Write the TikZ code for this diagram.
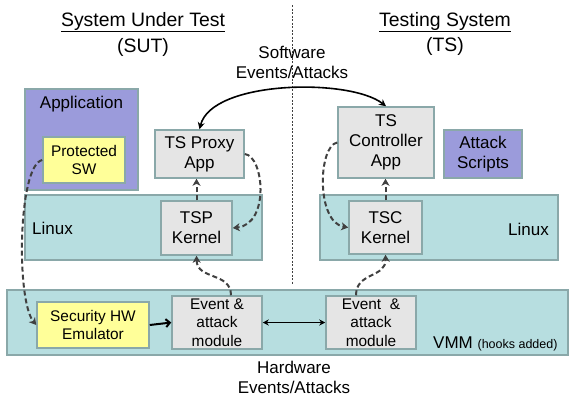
\documentclass[tikz,border=0pt]{standalone}
\usepackage{fontspec}
\setmainfont{Liberation Sans}
\usetikzlibrary{arrows.meta}
\definecolor{appblue}{HTML}{9B9BDB}
\definecolor{vmteal}{HTML}{B7DEE0}
\definecolor{modgray}{HTML}{E5E5E5}
\definecolor{hwyellow}{HTML}{FFFF99}
\definecolor{edgegray}{HTML}{8AA8A9}
\definecolor{flowgray}{HTML}{404040}
\begin{document}
\begin{tikzpicture}[x=1pt,y=-1pt,
  box/.style={draw=edgegray, line width=1.5pt, inner sep=0pt, align=center,
    font=\fontsize{17}{20}\selectfont},
  smallbox/.style={box, font=\fontsize{15.4}{18.5}\selectfont},
  flow/.style={draw=flowgray, line width=2pt, dash pattern=on 5pt off 3pt,
    -{Stealth[length=7pt,width=8pt,inset=2pt]}},
  call/.style={draw=black, line width=1.6pt, -{Stealth[length=7pt,width=7pt]}},
  txt/.style={inner sep=0pt, font=\fontsize{17}{20}\selectfont, align=center}]
\useasboundingbox (0,0) rectangle (569,399);

% headings
\node[txt, font=\fontsize{19.4}{22}\selectfont] (sut) at (143,22) {\underline{System Under Test}};
\node[txt, font=\fontsize{19.4}{22}\selectfont] (sutab) at (143,47) {(SUT)};
\node[txt, font=\fontsize{19.4}{22}\selectfont] (ts) at (445,22) {\underline{Testing System}};
\node[txt, font=\fontsize{19.4}{22}\selectfont] (tsab) at (445,46) {(TS)};
\draw[flowgray, line width=0.6pt, dash pattern=on 2pt off 1.5pt] (292,5) coordinate (divtop) -- (292,285) coordinate (divbot);

% layers
\node[box, fill=vmteal, minimum width=561pt, minimum height=65pt] (vmm) at (287.5,322.5) {};
\node[box, fill=vmteal, minimum width=237pt, minimum height=65pt] (linuxL) at (143.5,227.5) {};
\node[box, fill=vmteal, minimum width=238pt, minimum height=65pt] (linuxR) at (439,227.5) {};
\node[box, fill=appblue, minimum width=113pt, minimum height=101pt] (app) at (81.5,139.5) {};
\node[txt] (apptxt) at (81.5,104) {Application};
\node[txt, anchor=west] (linuxLtxt) at (32,228) {Linux};
\node[txt, anchor=east] (linuxRtxt) at (549,229) {Linux};
\node[txt, anchor=base west] (vmmtxt) at (433,348) {VMM {\fontsize{12.5}{14}\selectfont(hooks added)}};

% boxes
\node[smallbox, fill=hwyellow, minimum width=82pt, minimum height=46pt] (prot) at (84,160) {Protected\\SW};
\node[box, fill=modgray, minimum width=89pt, minimum height=48pt] (proxy) at (199.5,154) {TS Proxy\\App};
\node[box, fill=modgray, minimum width=71pt, minimum height=54pt] (tspk) at (196.5,228) {TSP\\Kernel};
\node[smallbox, fill=hwyellow, minimum width=112pt, minimum height=46pt] (emu) at (93,325) {Security HW\\Emulator};
\node[smallbox, fill=modgray, minimum width=90pt, minimum height=53pt] (evL) at (217,322.5) {Event \&\\attack\\module};
\node[smallbox, fill=modgray, minimum width=90pt, minimum height=53pt] (evR) at (371,322.5) {Event \ \&\\attack\\module};
\node[box, fill=modgray, minimum width=73pt, minimum height=53pt] (tsck) at (385.5,227.5) {TSC\\Kernel};
\node[box, fill=modgray, minimum width=96pt, minimum height=71pt] (ctrl) at (386,142.5) {TS\\Controller\\App};
\node[box, fill=appblue, minimum width=78pt, minimum height=48pt] (atk) at (483,154) {Attack\\Scripts};

% event labels
\node[txt] (swev) at (292,62) {Software\\Events/Attacks};
\node[txt] (hwev) at (294,377) {Hardware\\Events/Attacks};

% connectors
\draw[call, {Stealth[length=7pt,width=7pt]}-{Stealth[length=7pt,width=7pt]}] (proxy.north) .. controls (212,80) and (350,78) .. (ctrl.north);
\draw[call, line width=2pt, -{Straight Barb[length=4pt,width=8pt]}] (emu.east) -- (evL.west);
\draw[call, line width=1.3pt, {Stealth[length=6pt,width=6pt]}-{Stealth[length=6pt,width=6pt]}] (evL.east) -- (evR.west);
\draw[flow] (prot.west) .. controls (18,165) and (16,300) .. (emu.west);
\draw[flow] (tspk.north) -- (tspk.north |- proxy.south);
\draw[flow] (proxy.east) .. controls (264,156) and (270,224) .. (tspk.east);
\draw[flow] (evL.north -| 231,0) .. controls (231,272) and (197,280) .. (tspk.south);
\draw[flow] (tsck.north) -- (tsck.north |- ctrl.south);
\draw[flow] (ctrl.west) .. controls (318,146) and (316,222) .. (tsck.west);
\draw[flow] (evR.north -| 356,0) .. controls (356,272) and (386,278) .. (tsck.south);
\end{tikzpicture}
\end{document}
